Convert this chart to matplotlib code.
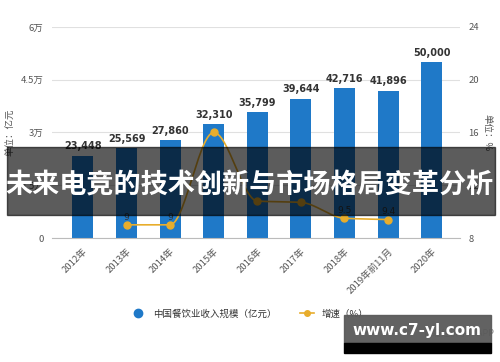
import numpy as np
import matplotlib.pyplot as plt
from matplotlib.patches import Rectangle
from matplotlib.lines import Line2D

plt.rcParams['font.family'] = ['Noto Sans CJK SC', 'DejaVu Sans']

# ---- datos ----
years = ["2012年", "2013年", "2014年", "2015年", "2016年", "2017年",
         "2018年", "2019年前11月", "2020年"]
revenue = [23448, 25569, 27860, 32310, 35799, 39644, 42716, 41896, 50000]
growth_years = [1, 2, 3, 4, 5, 6, 7]          # 2013 .. 2019前11月
growth = [9.0, 9.0, 16.0, 10.8, 10.7, 9.5, 9.4]
growth_labels = ["9", "9", "", "", "", "9.5", "9.4"]
left_ticks = [0, 15000, 30000, 45000, 60000]
left_labels = ["0", "1.5万", "3万", "4.5万", "6万"]
right_ticks = [8, 12, 16, 20, 24]

BLUE = "#1f79c8"
GOLD = "#e8ad2c"
GREY = "#555555"


def smooth(xs, ys, n=30):
    # curva monótona (Fritsch-Carlson), solo para dibujar la línea suave
    xs = np.asarray(xs, float)
    ys = np.asarray(ys, float)
    h = np.diff(xs)
    d = np.diff(ys) / h
    m = np.zeros_like(ys)
    m[0], m[-1] = d[0], d[-1]
    for i in range(1, len(ys) - 1):
        if d[i - 1] * d[i] > 0:
            m[i] = 2 / (1 / d[i - 1] + 1 / d[i])
    ox, oy = [], []
    for i in range(len(h)):
        t = np.linspace(0, 1, n)
        h00 = 2 * t ** 3 - 3 * t ** 2 + 1
        h10 = t ** 3 - 2 * t ** 2 + t
        h01 = -2 * t ** 3 + 3 * t ** 2
        h11 = t ** 3 - t ** 2
        ox.extend(xs[i] + t * h[i])
        oy.extend(h00 * ys[i] + h10 * h[i] * m[i] + h01 * ys[i + 1] + h11 * h[i] * m[i + 1])
    return np.array(ox), np.array(oy)


fig = plt.figure(figsize=(5, 3.62), dpi=100)
ax = fig.add_axes([0.104, 0.3425, 0.816, 0.583])
x = np.arange(len(years))

ax.bar(x, revenue, width=0.48, color=BLUE, zorder=2)
for xi, v in zip(x, revenue):
    ax.text(xi, v + 1200, f"{v:,}", ha="center", va="bottom",
            fontsize=7, color="#333333", fontweight="bold", family="DejaVu Sans")

ax.set_ylim(0, 60000)
ax.set_xlim(-0.71, 8.65)
ax.set_yticks(left_ticks)
ax.set_yticklabels(left_labels)
ax.grid(axis="y", color="#e0e0e0", lw=0.8, zorder=0)
ax.set_xticks(x)
ax.set_xticklabels(years, rotation=45, ha="right", rotation_mode="anchor")
ax.tick_params(axis="both", length=0, labelsize=6.8, labelcolor=GREY, pad=6)
for s in ["top", "right", "left"]:
    ax.spines[s].set_visible(False)
ax.spines["bottom"].set_color("#bbbbbb")
ax.set_ylabel("单位：亿元", fontsize=6.8, color=GREY, labelpad=4)

ax2 = ax.twinx()
ax2.set_ylim(8, 24)
ax2.set_yticks(right_ticks)
ax2.tick_params(axis="y", length=0, labelsize=6.8, labelcolor=GREY, pad=6)
for s in ax2.spines.values():
    s.set_visible(False)
ax2.set_ylabel("单位：%", fontsize=6.8, color=GREY, rotation=270, labelpad=9)
sx, sy = smooth(growth_years, growth)
ax2.plot(sx, sy, color=GOLD, lw=1.2, zorder=3)
ax2.plot(growth_years, growth, "o", color=GOLD, ms=5, zorder=4)
for gx, gy, lab in zip(growth_years, growth, growth_labels):
    if lab:
        ax2.text(gx, gy + 0.25, lab, ha="center", va="bottom", fontsize=6.5,
                 color="#333333", family="DejaVu Sans", zorder=5)

# ---- leyenda ----
handles = [Line2D([], [], marker="o", ls="", color=BLUE, ms=6),
           Line2D([], [], marker="o", color=GOLD, ms=4, lw=1.2)]
fig.legend(handles, ["中国餐饮业收入规模（亿元）", "增速（%）"], loc="center",
           bbox_to_anchor=(0.5, 1 - 314 / 362), ncol=2, frameon=False,
           fontsize=6.8, labelcolor="#333333", handlelength=1.5, columnspacing=2.5)

# ---- franja de título ----
fig.add_artist(Rectangle((7 / 500, 1 - 215 / 362), 488 / 500, 68 / 362,
                         transform=fig.transFigure, color="black", alpha=0.64, zorder=10))
fig.text(0.5, 1 - 185 / 362, "未来电竞的技术创新与市场格局变革分析", ha="center",
         va="center", fontsize=19.5, color="white", fontweight="bold", zorder=11)

# ---- marca inferior ----
fig.text(0.99, 1 - 333 / 362, "前瞻经济学人APP", ha="right", va="center",
         fontsize=6.5, color="#777777", zorder=9)
fig.add_artist(Rectangle((344 / 500, 1 - 343 / 362), 147 / 500, 28 / 362,
                         transform=fig.transFigure, color="#5a5a5a", alpha=0.95, zorder=10))
fig.add_artist(Rectangle((344 / 500, 1 - 353 / 362), 147 / 500, 10 / 362,
                         transform=fig.transFigure, color="black", zorder=10))
fig.text(417 / 500, 1 - 331 / 362, "www.c7-yl.com", ha="center", va="center",
         fontsize=11, color="white", fontweight="bold", family="DejaVu Sans", zorder=11)

fig.savefig("out.png", dpi=100)
